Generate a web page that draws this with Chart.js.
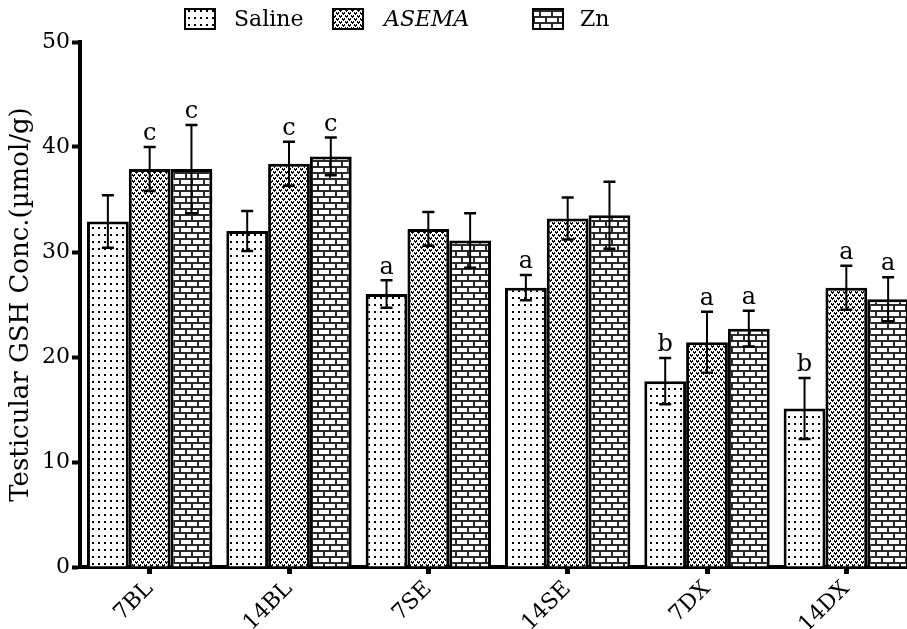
<!DOCTYPE html>
<html>
<head>
<meta charset="utf-8">
<script src="https://cdn.jsdelivr.net/npm/chart.js@4.4.1/dist/chart.umd.min.js"></script>
<style>
  html, body { margin: 0; padding: 0; background: #fff; overflow: hidden; }
</style>
</head>
<body>
<canvas id="gshChart" width="930" height="629"></canvas>
<script>
// Data (mean and SEM per group)
const groups = ['7BL', '14BL', '7SE', '14SE', '7DX', '14DX'];
const seriesNames = ['Saline', 'ASEMA', 'Zn'];

const salineMean = [32.9, 32.0, 26.0, 26.6, 17.7, 15.1];
const salineSem  = [2.5, 1.9, 1.3, 1.2, 2.2, 2.9];
const asemaMean  = [37.9, 38.4, 32.2, 33.2, 21.4, 26.6];
const asemaSem   = [2.1, 2.1, 1.6, 2.0, 2.9, 2.1];
const znMean     = [37.9, 39.1, 31.1, 33.5, 22.7, 25.5];
const znSem      = [4.2, 1.8, 2.6, 3.2, 1.7, 2.1];

// significance letters above the error bars
const salineLetters = ['', '', 'a', 'a', 'b', 'b'];
const asemaLetters  = ['c', 'c', '', '', 'a', 'a'];
const znLetters     = ['c', 'c', '', '', 'a', 'a'];

const yTicks = [0, 10, 20, 30, 40, 50];

const FONT = "'DejaVu Serif', serif";

// Fill patterns like the original hatching
function makePattern(w, h, draw) {
  const c = document.createElement('canvas');
  c.width = w; c.height = h;
  const g = c.getContext('2d');
  draw(g);
  return document.getElementById('gshChart').getContext('2d').createPattern(c, 'repeat');
}

const dotsPattern = makePattern(6, 7, g => {
  g.fillStyle = '#fff'; g.fillRect(0, 0, 6, 7);
  g.fillStyle = '#000'; g.fillRect(2, 3, 2, 2);
});

const heartPattern = makePattern(6, 6, g => {
  g.fillStyle = '#fff'; g.fillRect(0, 0, 6, 6);
  g.fillStyle = '#000';
  [[0, 0], [3, 3]].forEach(([ox, oy]) => {
    g.fillRect(ox, oy, 1, 1); g.fillRect(ox + 2, oy, 1, 1);
    g.fillRect(ox, oy + 1, 3, 1);
    g.fillRect(ox + 1, oy + 2, 1, 1);
  });
});

const brickPattern = makePattern(12, 12, g => {
  g.fillStyle = '#2a2a2a'; g.fillRect(0, 0, 12, 12);
  g.fillStyle = '#fff';
  g.fillRect(1, 0, 10, 4);
  g.fillRect(7, 6, 5, 4);
  g.fillRect(0, 6, 5, 4);
});

const fills = [dotsPattern, heartPattern, brickPattern];
const sems = [salineSem, asemaSem, znSem];
const letters = [salineLetters, asemaLetters, znLetters];

// Error bars + letters, positioned through the y scale
const errorBarPlugin = {
  id: 'errorBars',
  afterDatasetsDraw(chart) {
    const ctx = chart.ctx;
    const yScale = chart.scales.y;
    ctx.save();
    ctx.strokeStyle = '#000';
    ctx.fillStyle = '#000';
    chart.data.datasets.forEach((ds, i) => {
      const meta = chart.getDatasetMeta(i);
      meta.data.forEach((bar, j) => {
        const v = ds.data[j];
        const s = sems[i][j];
        const yTop = yScale.getPixelForValue(v + s);
        const yBot = yScale.getPixelForValue(v - s);
        ctx.lineWidth = 2;
        ctx.beginPath();
        ctx.moveTo(bar.x, yTop);
        ctx.lineTo(bar.x, yBot);
        ctx.stroke();
        ctx.lineWidth = 2.5;
        ctx.beginPath();
        ctx.moveTo(bar.x - 6, yTop); ctx.lineTo(bar.x + 6, yTop);
        ctx.moveTo(bar.x - 6, yBot); ctx.lineTo(bar.x + 6, yBot);
        ctx.stroke();
        const t = letters[i][j];
        if (t) {
          ctx.font = '24px ' + FONT;
          ctx.textAlign = 'center';
          ctx.textBaseline = 'bottom';
          ctx.fillText(t, bar.x, yTop - 1);
        }
      });
    });
    ctx.restore();
  }
};

// Legend along the top (ASEMA in italics)
const legendPlugin = {
  id: 'topLegend',
  afterDraw(chart) {
    const ctx = chart.ctx;
    const items = [
      { box: 185, text: 234, italic: false },
      { box: 333, text: 384, italic: true },
      { box: 533, text: 580, italic: false }
    ];
    ctx.save();
    items.forEach((it, i) => {
      ctx.fillStyle = fills[i];
      ctx.fillRect(it.box, 9, 30, 20);
      ctx.lineWidth = 2;
      ctx.strokeStyle = '#000';
      ctx.strokeRect(it.box, 9, 30, 20);
      ctx.fillStyle = '#000';
      ctx.font = (it.italic ? 'italic ' : '') + '22px ' + FONT;
      ctx.textAlign = 'left';
      ctx.textBaseline = 'middle';
      ctx.fillText(seriesNames[i], it.text, 20);
    });
    ctx.restore();
  }
};

const datasets = [salineMean, asemaMean, znMean].map((d, i) => ({
  label: seriesNames[i],
  data: d,
  backgroundColor: fills[i],
  borderColor: '#000',
  borderWidth: 3,
  categoryPercentage: 0.9,
  barPercentage: 1.0
}));

new Chart(document.getElementById('gshChart'), {
  type: 'bar',
  data: { labels: groups, datasets: datasets },
  plugins: [errorBarPlugin, legendPlugin],
  options: {
    responsive: false,
    animation: false,
    layout: { padding: { top: 42, right: 14, left: 0, bottom: 0 } },
    plugins: { legend: { display: false }, tooltip: { enabled: false } },
    scales: {
      x: {
        afterFit(scale) { scale.height = 62; },
        grid: { offset: false, drawOnChartArea: false, drawTicks: true, tickLength: 7, tickWidth: 5, tickColor: '#000' },
        border: { display: true, width: 4, color: '#000' },
        ticks: { color: '#000', font: { family: FONT, size: 22 }, maxRotation: 45, minRotation: 45, padding: 2 }
      },
      y: {
        min: 0,
        max: 50,
        afterFit(scale) { scale.width = 80; },
        afterBuildTicks(scale) { scale.ticks = yTicks.map(v => ({ value: v })); },
        grid: { drawOnChartArea: false, drawTicks: true, tickLength: 8, tickWidth: 4, tickColor: '#000' },
        border: { display: true, width: 4, color: '#000' },
        ticks: { color: '#000', font: { family: FONT, size: 22 }, padding: 2 },
        title: { display: true, text: 'Testicular GSH Conc.(\u00b5mol/g)', color: '#000', font: { family: FONT, size: 26 }, padding: { top: 6, bottom: 0 } }
      }
    }
  }
});
</script>
</body>
</html>
